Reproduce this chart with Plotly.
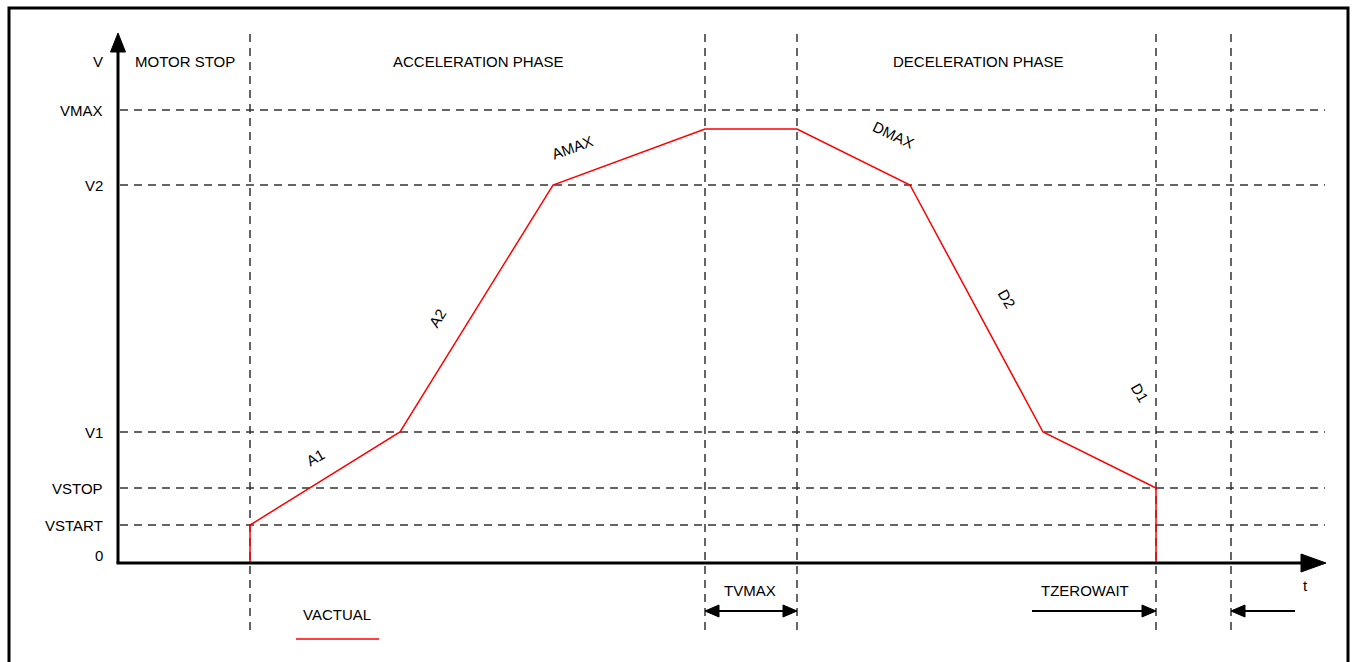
import plotly.graph_objects as go

# Velocity ramp profile (time and velocity in drawing units; origin at the axes corner)
t_points = [132, 132, 282, 435, 587, 679, 792, 925, 1038, 1038]
v_points = [0, 38, 131, 378, 434, 434, 378, 131, 75, 0]

# Reference velocity levels shown as horizontal guides
level_names = ["0", "VSTART", "VSTOP", "V1", "V2", "VMAX"]
level_values = [0, 38, 75, 131, 378, 453]

# Phase boundaries shown as vertical guides
phase_times = [132, 587, 679, 1038, 1113]

# Slope labels: text, position, rotation
slope_names = ["A1", "A2", "AMAX", "DMAX", "D2", "D1"]
slope_t = [197, 319, 454, 775, 889, 1022]
slope_v = [106, 245, 416, 429, 265, 171]
slope_angle = [-30, -58, -20, 25, 60, 60]

FONT = "Liberation Sans, Arial, sans-serif"
W, H = 1353, 662
OX, OY = 118, 563  # axes corner in page pixels

fig = go.Figure()

shapes = []
annotations = []

dash_style = dict(color="#333333", width=1.5, dash="8px,6px")

# horizontal guides
for val in level_values[1:]:
    shapes.append(dict(type="line", xref="x", yref="y", x0=2, x1=1207, y0=val, y1=val,
                       line=dash_style, layer="below"))
# vertical guides
for tt in phase_times:
    shapes.append(dict(type="line", xref="x", yref="y", x0=tt, x1=tt, y0=-67, y1=530,
                       line=dash_style, layer="below"))

# page border
shapes.append(dict(type="rect", xref="x", yref="y", x0=9 - OX, x1=1348 - OX,
                   y0=-120, y1=OY - 8, line=dict(color="black", width=3)))

# axes with filled arrow heads
shapes.append(dict(type="line", xref="x", yref="y", x0=0, x1=0, y0=0, y1=512,
                   line=dict(color="black", width=3)))
shapes.append(dict(type="path", xref="x", yref="y",
                   path="M -7.5 511 L 7.5 511 L 0 530 Z",
                   fillcolor="black", line=dict(color="black", width=1)))
shapes.append(dict(type="line", xref="x", yref="y", x0=-1.5, x1=1184, y0=0, y1=0,
                   line=dict(color="black", width=3)))
shapes.append(dict(type="path", xref="x", yref="y",
                   path="M 1183 9 L 1183 -9 L 1208 0 Z",
                   fillcolor="black", line=dict(color="black", width=1)))


def head(x_tip, y, direction, length=14, half=6):
    base = x_tip - direction * length
    return dict(type="path", xref="x", yref="y",
                path=f"M {x_tip} {y} L {base} {y + half} L {base} {y - half} Z",
                fillcolor="black", line=dict(color="black", width=1))


# interval markers below the time axis
ay = -48
t_vmax0, t_vmax1 = phase_times[1], phase_times[2]
t_zw, t_end = phase_times[3], phase_times[4]
shapes.append(dict(type="line", xref="x", yref="y", x0=t_vmax0 + 8, x1=t_vmax1 - 8,
                   y0=ay, y1=ay, line=dict(color="black", width=2)))
shapes.append(head(t_vmax0, ay, -1))
shapes.append(head(t_vmax1, ay, 1))
shapes.append(dict(type="line", xref="x", yref="y", x0=t_zw - 124, x1=t_zw - 8,
                   y0=ay, y1=ay, line=dict(color="black", width=2)))
shapes.append(head(t_zw, ay, 1))
shapes.append(dict(type="line", xref="x", yref="y", x0=t_end + 8, x1=t_end + 64,
                   y0=ay, y1=ay, line=dict(color="black", width=2)))
shapes.append(head(t_end, ay, -1))

# legend sample line
shapes.append(dict(type="line", xref="x", yref="y", x0=178, x1=261, y0=-76, y1=-76,
                   line=dict(color="#ff0000", width=1.5)))

# profile trace
fig.add_trace(go.Scatter(x=t_points, y=v_points, mode="lines",
                         line=dict(color="#ff0000", width=1.5),
                         hoverinfo="skip", showlegend=False))

txt = dict(size=15, color="black", family=FONT)


def label(x, y, text, xanchor="center", angle=0):
    annotations.append(dict(x=x, y=y, xref="x", yref="y", text=text, showarrow=False,
                            xanchor=xanchor, yanchor="middle", textangle=angle,
                            font=txt))


# velocity level names
label(-13, 502, "V", "right")
for name, val in zip(level_names, level_values):
    yy = val + 8 if name == "0" else val
    label(-13, yy, name, "right")

# phase titles
label(15, 502, "MOTOR STOP", "left")
label(360, 502, "ACCELERATION PHASE")
label(860, 502, "DECELERATION PHASE")

# slope names
for name, tt, vv, ang in zip(slope_names, slope_t, slope_v, slope_angle):
    label(tt, vv, name, angle=ang)

# time axis labels
label(1187, -22, "t")
label(632, -27, "TVMAX")
label(967, -27, "TZEROWAIT")
label(219, -51, "VACTUAL")

fig.update_layout(
    width=W, height=H,
    margin=dict(l=0, r=0, t=0, b=0),
    paper_bgcolor="white", plot_bgcolor="white",
    xaxis=dict(range=[-OX, W - OX], visible=False, fixedrange=True),
    yaxis=dict(range=[OY - H, OY], visible=False, fixedrange=True),
    shapes=shapes, annotations=annotations,
    showlegend=False,
)

fig.write_html("out.html", config={"displayModeBar": False})
